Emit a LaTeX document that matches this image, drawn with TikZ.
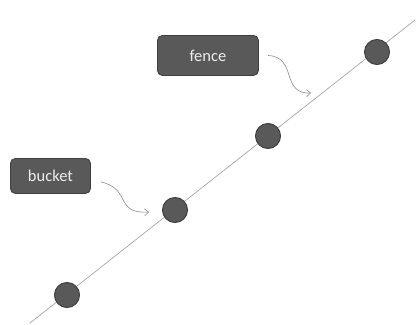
\documentclass[tikz,border=0pt]{standalone}
\usepackage{fontspec}
\setmainfont{Carlito}
\usetikzlibrary{arrows.meta,calc}
\definecolor{boxfill}{HTML}{595959}
\definecolor{boxedge}{HTML}{3F3F3F}
\definecolor{labeltext}{HTML}{EDEDED}
\definecolor{linegray}{HTML}{A6A6A6}
\definecolor{pointergray}{HTML}{8C8C8C}
\tikzset{
  labelbox/.style={draw=boxedge, fill=boxfill, line width=0.9pt, rounded corners=5pt,
    text=labeltext, font=\fontsize{16.5}{19}\selectfont, anchor=north west, inner sep=0pt},
  dot/.style={circle, draw=boxedge, fill=boxfill, line width=1pt, minimum size=25pt, inner sep=0pt},
  pointer/.style={draw=pointergray, line width=0.6pt, -{Straight Barb[length=4pt,width=7pt]}},
}
\begin{document}
\begin{tikzpicture}[x=1pt,y=-1pt]
\useasboundingbox (0,0) rectangle (417,324);
% diagonal line
\coordinate (lineA) at (30,323);
\coordinate (lineB) at (415,20);
\draw[linegray, line width=0.7pt] (lineA) -- (lineB);
% points on the line
\node[dot] (p1) at (67,295) {};
\node[dot] (p2) at (175,210) {};
\node[dot] (p3) at (268,136) {};
\node[dot] (p4) at (377,52) {};
% labels
\node[labelbox, minimum width=101pt, minimum height=40pt] (fence) at (157,35) {fence};
\node[labelbox, minimum width=80pt, minimum height=35pt] (bucket) at (10,158) {bucket};
% pointers
\coordinate (fenceStart) at ($(fence.east)+(9,0)$);
\coordinate (fenceEnd) at (311,93);
\coordinate (bucketStart) at ($(bucket.east)+(10,6)$);
\coordinate (bucketEnd) at (149,212);
\draw[pointer] (fenceStart) .. controls (298,57) and (280,94) .. (fenceEnd);
\draw[pointer] (bucketStart) .. controls (132,189) and (114,214) .. (bucketEnd);
\end{tikzpicture}
\end{document}
